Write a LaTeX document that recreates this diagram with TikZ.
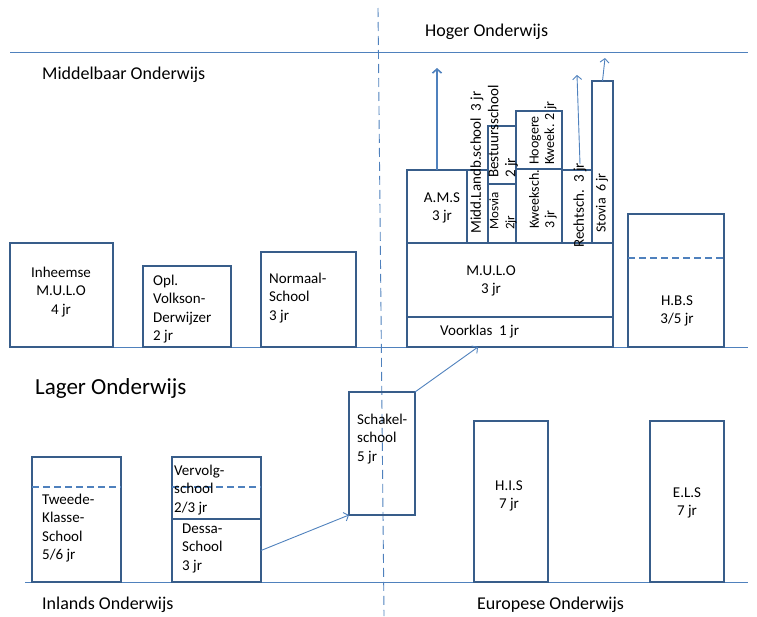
\documentclass[tikz,border=0pt]{standalone}
\usepackage{fontspec}
\setmainfont{Carlito}
\usetikzlibrary{arrows.meta,calc}
\definecolor{schoolEdge}{RGB}{56,93,138}
\definecolor{levelLine}{RGB}{79,129,189}

\begin{document}
\begin{tikzpicture}[
  x=1pt, y=-1pt,
  school/.style={draw=schoolEdge, line width=2.2pt, anchor=north west, inner sep=0pt, outer sep=0pt},
  txt/.style={font=\fontsize{15}{18.5}\selectfont, align=left, inner sep=0pt},
  vtxt/.style={font=\fontsize{14}{15.5}\selectfont, align=left, inner sep=0pt, rotate=90, anchor=west},
  level/.style={font=\fontsize{18}{22}\selectfont, anchor=west, inner sep=0pt},
  bound/.style={levelLine, line width=0.9pt},
  split/.style={levelLine, line width=2pt, dash pattern=on 7pt off 4pt},
  arrow/.style={-{Straight Barb[length=4pt,width=9pt]}, levelLine, line width=0.9pt}
]
\useasboundingbox (0,0) rectangle (757,616);

% level lines
\draw[bound] (10,52) -- (748,52);
\draw[bound] (10,347) -- (748,347);
\draw[bound] (25,582) -- (748,582);
\draw[levelLine, line width=0.9pt, dash pattern=on 9pt off 5pt] (378,8) -- (384,616);

% level names
\node[level] (hoger) at (425,32) {Hoger Onderwijs};
\node[level] (middel) at (42,75) {Middelbaar Onderwijs};
\node[level, font=\fontsize{23}{28}\selectfont] (lager) at (35,388) {Lager Onderwijs};
\node[level] (inlands) at (42,605) {Inlands Onderwijs};
\node[level] (europ) at (477,605) {Europese Onderwijs};

% middelbaar onderwijs
\node[school, minimum width=103pt, minimum height=104pt] (ihm) at (10,243) {};
\node[school, minimum width=88pt, minimum height=81pt] (opl) at (143,266) {};
\node[school, minimum width=95pt, minimum height=95pt] (nrm) at (261,252) {};
\node[txt, align=center] (ihm-t) at (61,292) {Inheemse\\M.U.L.O\\4 jr};
\node[txt, anchor=west] (opl-t) at (153,309) {Opl.\\Volkson-\\Derwijzer\\2 jr};
\node[txt, anchor=west] (nrm-t) at (269,298) {Normaal-\\School\\3 jr};

% mulo and its follow-up schools
\node[school, minimum width=206pt, minimum height=30pt] (vkl) at (407,317) {};
\node[school, minimum width=206pt, minimum height=74pt] (mulo) at (407,243) {};
\node[school, minimum width=60pt, minimum height=73pt] (ams) at (407,170) {};
\node[school, minimum width=21pt, minimum height=73pt] (mls) at (467,170) {};
\node[school, minimum width=28pt, minimum height=58pt] (bst) at (488,126) {};
\node[school, minimum width=28pt, minimum height=59pt] (msv) at (488,184) {};
\node[school, minimum width=46pt, minimum height=58pt] (hkw) at (516,111) {};
\node[school, minimum width=46pt, minimum height=74pt] (kws) at (516,169) {};
\node[school, minimum width=30pt, minimum height=73pt] (rcs) at (562,170) {};
\node[school, minimum width=21pt, minimum height=162pt] (stv) at (592,81) {};
\node[txt, anchor=west] (vkl-t) at (440,332) {Voorklas~~1 jr};
\node[txt, align=center] (mulo-t) at (491,281) {M.U.L.O\\3 jr};
\node[txt, align=center] (ams-t) at (442,208) {A.M.S\\3 jr};
\node[vtxt, font=\fontsize{15}{18}\selectfont] (mls-t) at (477,234) {Midd.Landb.school~~3 jr};
\node[vtxt, font=\fontsize{15}{17}\selectfont] (bst-t) at (503,178) {Bestuursschool\\2 jr};
\node[vtxt, font=\fontsize{13}{16}\selectfont] (msv-t) at (503,230) {Mosvia\\2jr};
\node[vtxt] (hkw-t) at (543,165) {Hoogere\\Kweek. 2 jr};
\node[vtxt] (kws-t) at (543,229) {Kweeksch.\\3 jr};
\node[vtxt, font=\fontsize{15}{18}\selectfont] (rcs-t) at (580,248) {Rechtsch.~~3 jr};
\node[vtxt] (stv-t) at (602,233) {Stovia~~6 jr};

\coordinate (ams-up) at (437,68);
\coordinate (rcs-up) at (577,75);
\coordinate (stv-up) at (605,58);
\draw[arrow, line width=1.6pt] (ams.north) -- (ams-up);
\draw[arrow] ([xshift=3pt,yshift=6pt]rcs.north) -- (rcs-up);
\draw[arrow] (stv.north) -- (stv-up);

% hbs
\node[school, minimum width=96pt, minimum height=133pt] (hbs) at (628,214) {};
\draw[split] ([yshift=-44pt]hbs.north west) -- ([yshift=-44pt]hbs.north east);
\node[txt, align=center] (hbs-t) at (677,311) {H.B.S\\3/5 jr};

% lager onderwijs
\node[school, minimum width=89pt, minimum height=125pt] (tks) at (32,457) {};
\draw[split] ([yshift=-30pt]tks.north west) -- ([yshift=-30pt]tks.north east);
\node[txt, anchor=west] (tks-t) at (42,528) {Tweede-\\Klasse-\\School\\5/6 jr};

\node[school, minimum width=89pt, minimum height=62pt] (vvs) at (172,457) {};
\node[school, minimum width=89pt, minimum height=63pt] (dss) at (172,519) {};
\draw[split] ([yshift=-30pt]vvs.north west) -- ([yshift=-30pt]vvs.north east);
\node[txt, anchor=west] (vvs-t) at (174,490) {Vervolg-\\school\\2/3 jr};
\node[txt, anchor=west] (dss-t) at (182,548) {Dessa-\\School\\3 jr};

\node[school, minimum width=66pt, minimum height=123pt] (skl) at (349,392) {};
\node[txt, anchor=west] (skl-t) at (357,439) {Schakel-\\school\\5 jr};

\node[school, minimum width=74pt, minimum height=161pt] (his) at (474,421) {};
\node[txt, align=center] (his-t) at (509,496) {H.I.S\\7 jr};
\node[school, minimum width=74pt, minimum height=161pt] (els) at (650,421) {};
\node[txt, align=center] (els-t) at (687,503) {E.L.S\\7 jr};

\draw[arrow] (dss.east) -- (skl.south west);
\draw[arrow] (skl.north east) -- ([xshift=71pt]vkl.south west);

\end{tikzpicture}
\end{document}
